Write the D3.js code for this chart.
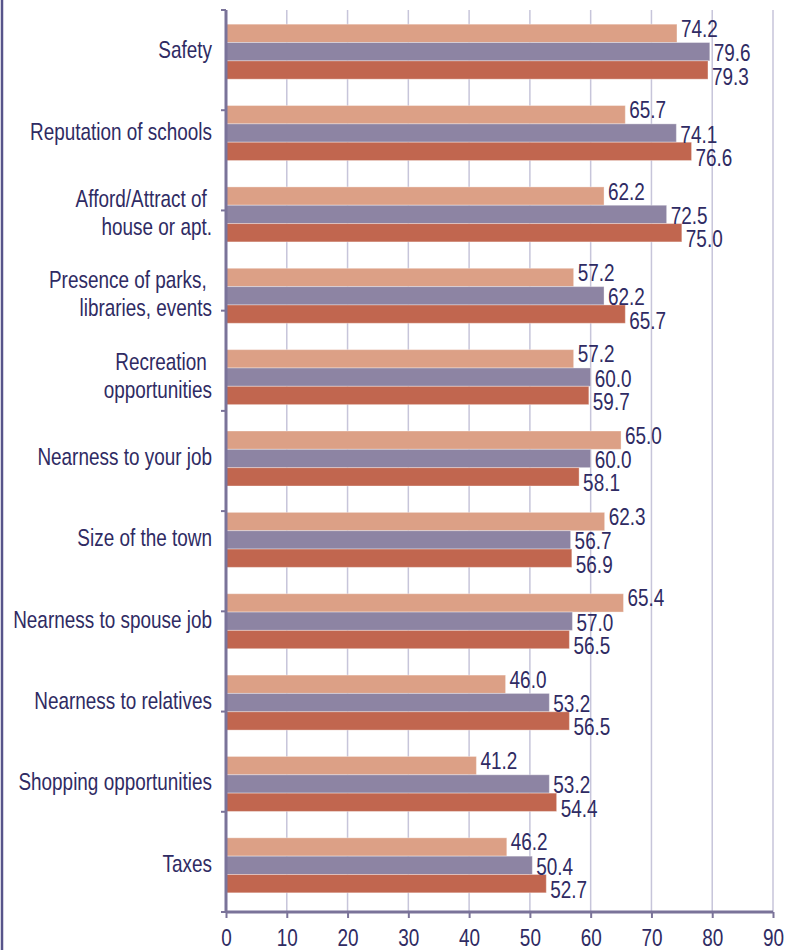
<!DOCTYPE html>
<html>
<head>
<meta charset="utf-8">
<script src="https://cdn.jsdelivr.net/npm/d3@7"></script>
<style>
  body { margin: 0; background: #fff; }
  text { font-family: "Liberation Sans", Arial, sans-serif; }
</style>
</head>
<body>
<div id="chart"></div>
<script>
// Data
const categories = [
    ["Safety"],
    ["Reputation of schools"],
    ["Afford/Attract of ", "house or apt."],
    ["Presence of parks, ", "libraries, events"],
    ["Recreation ", "opportunities"],
    ["Nearness to your job"],
    ["Size of the town"],
    ["Nearness to spouse job"],
    ["Nearness to relatives"],
    ["Shopping opportunities"],
    ["Taxes"]
];
const seriesNames = ["s1", "s2", "s3"];
const series1 = [74.2, 65.7, 62.2, 57.2, 57.2, 65.0, 62.3, 65.4, 46.0, 41.2, 46.2];
const series2 = [79.6, 74.1, 72.5, 62.2, 60.0, 60.0, 56.7, 57.0, 53.2, 53.2, 50.4];
const series3 = [79.3, 76.6, 75.0, 65.7, 59.7, 58.1, 56.9, 56.5, 56.5, 54.4, 52.7];
const xTicks = [0, 10, 20, 30, 40, 50, 60, 70, 80, 90];

const width = 786, height = 950;
const colors = ["#dca086", "#8d84a3", "#c1664f"];
const textColor = "#2f2b63";
const axisColor = "#7a7399";
const gridColor = "#c7c5da";
const fontSize = "24px";

const data = categories.map((c, i) => ({
    key: c.join(""),
    lines: c,
    values: [series1[i], series2[i], series3[i]]
}));

const svg = d3.select("#chart")
    .append("svg")
    .attr("width", width)
    .attr("height", height);

// The original uses a condensed face; squeeze a regular one horizontally
const probe = svg.append("text").style("font-size", fontSize).text("Reputation of schools");
const squeeze = 182 / probe.node().getComputedTextLength();
probe.remove();

const plotTop = 10, plotBottom = 912;

const x = d3.scaleLinear().domain([0, 90]).range([226, 773]);

const y = d3.scaleBand()
    .domain(data.map(d => d.key))
    .range([11, 906])
    .paddingInner(0.324)
    .paddingOuter(0.162);

const ySub = d3.scaleBand()
    .domain(seriesNames)
    .range([0, y.bandwidth()]);

// Left frame line
svg.append("line")
    .attr("x1", 2).attr("x2", 2)
    .attr("y1", 0).attr("y2", height)
    .attr("stroke", "#57548a")
    .attr("stroke-width", 2.5);

// Gridlines
svg.append("g")
    .selectAll("line")
    .data(xTicks.slice(1))
    .join("line")
    .attr("x1", d => x(d)).attr("x2", d => x(d))
    .attr("y1", plotTop).attr("y2", plotBottom)
    .attr("stroke", gridColor)
    .attr("stroke-width", 1.5);

// Bars
const groups = svg.append("g")
    .selectAll("g")
    .data(data)
    .join("g")
    .attr("transform", d => `translate(0,${y(d.key)})`);

groups.selectAll("rect")
    .data(d => d.values.map((v, i) => ({ s: seriesNames[i], i, v })))
    .join("rect")
    .attr("x", x(0))
    .attr("y", d => ySub(d.s))
    .attr("width", d => x(d.v) - x(0))
    .attr("height", ySub.bandwidth())
    .attr("fill", d => colors[d.i])
    .attr("stroke", "#fff")
    .attr("stroke-opacity", 0.35)
    .attr("stroke-width", 1);

// Value labels (spread slightly apart vertically)
const labelShift = [-5, 1, 6];
groups.selectAll("text")
    .data(d => d.values.map((v, i) => ({ s: seriesNames[i], i, v })))
    .join("text")
    .attr("transform", d => `translate(${x(d.v) + 4},${ySub(d.s) + ySub.bandwidth() / 2 + labelShift[d.i] + 8.5}) scale(${squeeze},1)`)
    .style("font-size", fontSize)
    .style("fill", textColor)
    .text(d => d3.format(".1f")(d.v));

// Category labels
svg.append("g")
    .selectAll("text")
    .data(data)
    .join("text")
    .attr("text-anchor", "end")
    .attr("transform", d => `translate(212,${y(d.key) + y.bandwidth() / 2}) scale(${squeeze},1)`)
    .style("font-size", fontSize)
    .style("fill", textColor)
    .style("white-space", "pre")
    .each(function (d) {
        const t = d3.select(this);
        const first = 6.5 - (d.lines.length - 1) * 14;
        d.lines.forEach((line, j) => {
            t.append("tspan")
                .attr("x", 0)
                .attr("y", first + j * 28)
                .text(line);
        });
    });

// Left axis with evenly spaced small ticks
const yTickScale = d3.scaleLinear().domain([0, 9]).range([plotTop, plotBottom]);
svg.append("g")
    .selectAll("line")
    .data(d3.range(10))
    .join("line")
    .attr("x1", x(0) - 5).attr("x2", x(0))
    .attr("y1", d => yTickScale(d)).attr("y2", d => yTickScale(d))
    .attr("stroke", axisColor)
    .attr("stroke-width", 2);

svg.append("line")
    .attr("x1", x(0)).attr("x2", x(0))
    .attr("y1", plotTop).attr("y2", plotBottom)
    .attr("stroke", axisColor)
    .attr("stroke-width", 3);

// Bottom axis
const xAxis = svg.append("g")
    .attr("transform", `translate(0,${plotBottom})`)
    .call(d3.axisBottom(x).tickValues(xTicks).tickSize(6).tickPadding(11).tickFormat(d3.format("d")));

xAxis.select(".domain")
    .attr("d", `M${x(0)},0H${x(90)}`)
    .attr("stroke", axisColor)
    .attr("stroke-width", 3);

xAxis.selectAll(".tick line")
    .attr("stroke", axisColor)
    .attr("stroke-width", 2);

xAxis.selectAll(".tick text")
    .attr("transform", `scale(${squeeze},1)`)
    .style("font-size", fontSize)
    .style("font-family", "\"Liberation Sans\", Arial, sans-serif")
    .style("fill", textColor);
</script>
</body>
</html>
